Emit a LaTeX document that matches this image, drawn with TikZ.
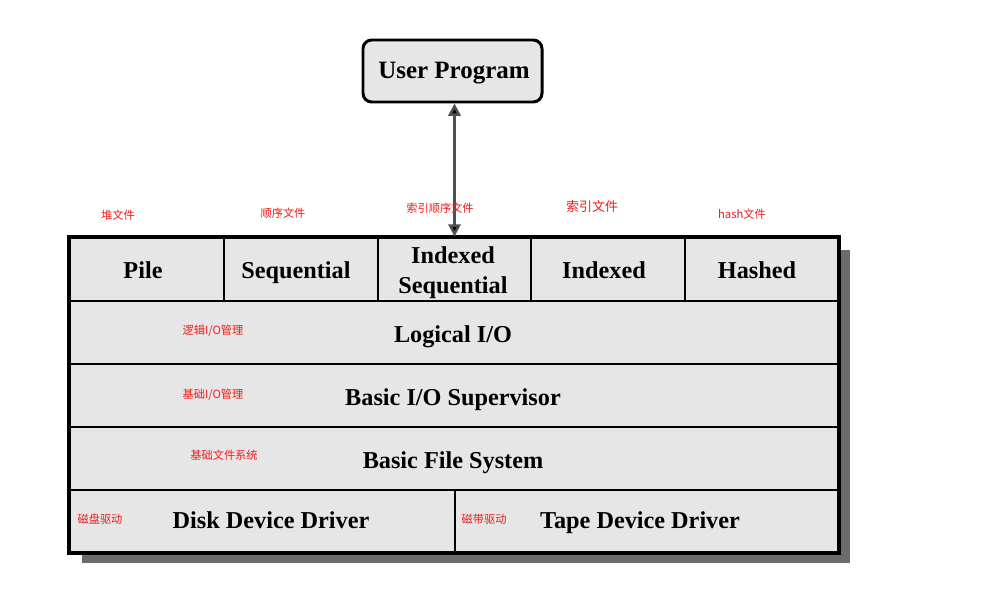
\documentclass[tikz,border=0pt]{standalone}
\usepackage{fontspec}
\setmainfont{Liberation Serif}
\newfontfamily\cjk{Noto Sans CJK SC}
\usetikzlibrary{arrows.meta,fit}
\definecolor{cellgray}{HTML}{E6E6E6}
\definecolor{shadowgray}{HTML}{6B6B6B}
\definecolor{notered}{HTML}{F41A1A}
\definecolor{arrowgray}{HTML}{505050}
\begin{document}
\begin{tikzpicture}[x=0.02cm,y=-0.02cm,
  cell/.style={draw=black, line width=1.6pt, fill=cellgray, inner sep=0pt},
  celltext/.style={inner sep=0pt, font=\bfseries\fontsize{13.8}{17}\selectfont, align=center,
    text height=12pt, text depth=3pt},
  twoline/.style={inner sep=0pt, font=\bfseries\fontsize{13.8}{17}\selectfont, align=center},
  note/.style={text=notered, font=\cjk\fontsize{6.4}{7}\selectfont, inner sep=0pt},
  bignote/.style={note, font=\cjk\fontsize{7.4}{8}\selectfont},
  userbox/.style={draw=black, line width=1.7pt, fill=cellgray, rounded corners=5pt, inner sep=0pt}]
\useasboundingbox[fill=white] (0,0) rectangle (1000,589);
% shadow
\fill[shadowgray] (82,250) rectangle (850,563);
% user program
\node[userbox, fit={(363,40)(542,102)}] (user) {};
\node[celltext, font=\bfseries\fontsize{14.2}{16}\selectfont] (usertxt) at (454,71) {User Program};
% row 1
\node[cell, fit={(70,238)(224,301)}] (pile) {};
\node[cell, fit={(224,238)(378,301)}] (seq) {};
\node[cell, fit={(378,238)(531,301)}] (indseq) {};
\node[cell, fit={(531,238)(685,301)}] (ind) {};
\node[cell, fit={(685,238)(838,301)}] (hash) {};
% rows
\node[cell, fit={(70,301)(838,364)}] (logical) {};
\node[cell, fit={(70,364)(838,427)}] (basicio) {};
\node[cell, fit={(70,427)(838,490)}] (bfs) {};
\node[cell, fit={(70,490)(455,552)}] (disk) {};
\node[cell, fit={(455,490)(838,552)}] (tape) {};
\draw[line width=1.7pt] (pile.north west) rectangle (tape.south east);
% texts
\node[celltext] (pilet) at (143,271) {Pile};
\node[celltext] (seqt) at (296,271) {Sequential};
\node[twoline] (indseqt) at (453,273) {Indexed\\Sequential};
\node[celltext] (indt) at (604,271) {Indexed};
\node[celltext] (hasht) at (757,271) {Hashed};
\node[celltext] (logicalt) at (453,335) {Logical I/O};
\node[celltext] (basiciot) at (453,398) {Basic I/O Supervisor};
\node[celltext] (bfst) at (453,461) {Basic File System};
\node[celltext] (diskt) at (271,521) {Disk Device Driver};
\node[celltext] (tapet) at (640,521) {Tape Device Driver};
% arrow
\draw[arrowgray, line width=1.4pt, {Triangle[length=7pt,width=7pt,fill=black]}-{Triangle[length=7pt,width=7pt,fill=black]}]
  (indseq.north |- user.south) -- (indseq.north);
% red notes
\node[note] (n1) at (118,215) {堆文件};
\node[note] (n2) at (283,213) {顺序文件};
\node[note] (n3) at (440,208) {索引顺序文件};
\node[bignote] (n4) at (592,207) {索引文件};
\node[note] (n5) at (742,214) {hash文件};
\node[note] (n6) at (213,331) {逻辑I/O管理};
\node[note] (n7) at (213,395) {基础I/O管理};
\node[note] (n8) at (224,455) {基础文件系统};
\node[note] (n9) at (100,519) {磁盘驱动};
\node[note] (n10) at (484,519) {磁带驱动};
\end{tikzpicture}
\end{document}
